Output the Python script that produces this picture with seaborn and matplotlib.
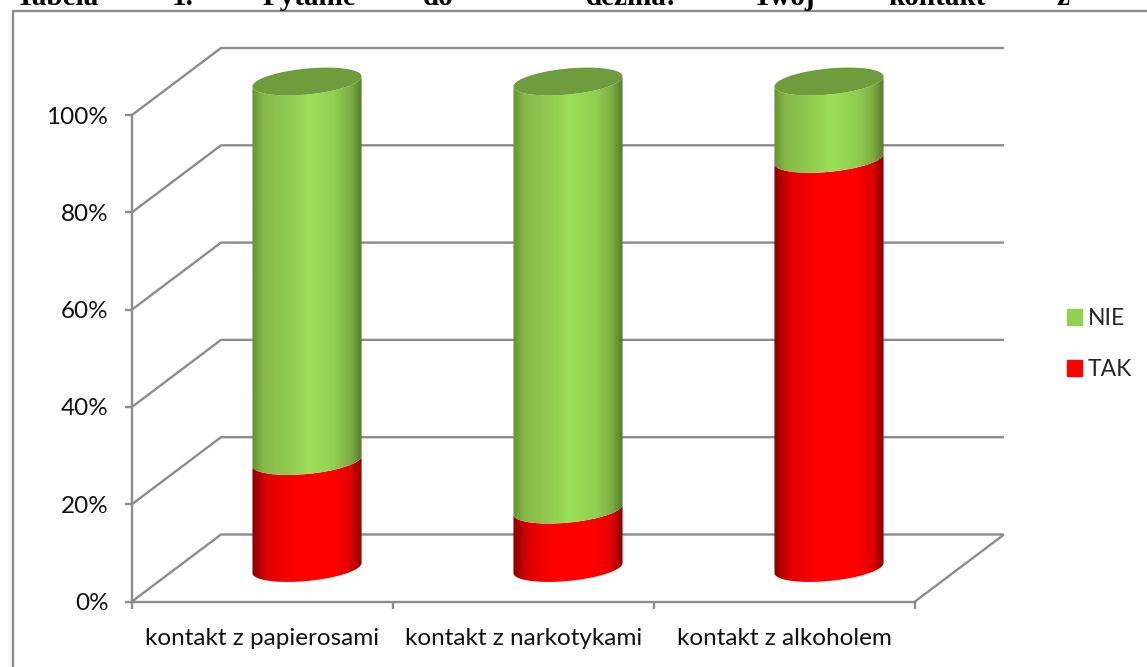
import numpy as np
import seaborn as sns
import matplotlib
matplotlib.use("Agg")
import matplotlib.pyplot as plt
from matplotlib.colors import LinearSegmentedColormap
from matplotlib.lines import Line2D
from matplotlib.patches import Patch
from matplotlib.path import Path

W, H = 1147, 667

categories = ["kontakt z papierosami", "kontakt z narkotykami", "kontakt z alkoholem"]
tak = [22.0, 12.0, 84.1]
nie = [78.0, 88.0, 15.9]
y_ticks = [0, 20, 40, 60, 80, 100]
y_labels = ["0%", "20%", "40%", "60%", "80%", "100%"]
title_words = ["Tabela", "1.", "Pytanie", "do", "dezina!", "Twój", "kontakt", "z"]
title_x = [16, 172, 263, 423, 586, 753, 888, 1056]

GRID = "#8c8c8c"
LW = 1.7
GREEN_STOPS = [(0, "#64902f"), (0.1, "#86b84a"), (0.35, "#92cc50"), (0.52, "#9ce05a"),
               (0.75, "#90cf50"), (0.9, "#7fae45"), (1, "#557a2a")]
RED_STOPS = [(0, "#8b0000"), (0.14, "#e00000"), (0.4, "#ff0000"), (0.75, "#ff0000"),
             (0.9, "#e00000"), (1, "#8b0000")]

sns.set_theme(style="white")
plt.rcParams["font.family"] = ["Lato", "DejaVu Sans"]

fig = plt.figure(figsize=(W / 100, H / 100), dpi=100)
ax = fig.add_axes([132 / W, (H - 601.5) / H, 783 / W, 486.5 / H])
ax.patch.set_visible(False)

sns.barplot(x=categories, y=tak, color="#ff0000", saturation=1, width=0.418, ax=ax)
sns.barplot(x=categories, y=nie, bottom=tak, color="#92d050", saturation=1, width=0.418, ax=ax)

# depth of the fake 3d box, in data units
depth_x = 89 / 261
depth_y = 67 / 4.865
x0, x1 = -0.5, 2.5
ell_b = 13 / 4.865
ell_k = 5 / 4.865


def low_arc(cx, a, y, reverse=False):
    t = np.linspace(np.pi, 2 * np.pi, 60)
    if reverse:
        t = t[::-1]
    return np.column_stack([cx + a * np.cos(t), y + ell_b * np.sin(t) + ell_k * np.cos(t)])


def cylinder(bar, stops):
    # shifted half way into the box
    a = bar.get_width() / 2
    cx = bar.get_x() + a + depth_x / 2
    y0 = bar.get_y() + depth_y / 2
    y1 = y0 + bar.get_height()
    pts = np.vstack([low_arc(cx, a, y0), low_arc(cx, a, y1, reverse=True)])
    path = Path(np.vstack([pts, pts[0]]), closed=True)
    cmap = LinearSegmentedColormap.from_list("cyl", stops)
    im = ax.imshow(np.linspace(0, 1, 256).reshape(1, -1), cmap=cmap, aspect="auto", zorder=3,
                   extent=(cx - a, cx + a, y0 - 10, y1 + 10), interpolation="bilinear")
    im.set_clip_box(fig.bbox)
    im.set_clip_path(path, ax.transData)
    bar.set_visible(False)
    return cx, a, y1


bars = list(ax.patches)
n = len(categories)
for bar in bars[:n]:
    cylinder(bar, RED_STOPS)
for bar in bars[n:]:
    cx, a, top = cylinder(bar, GREEN_STOPS)
    t = np.linspace(0, 2 * np.pi, 120)
    ax.fill(cx + a * np.cos(t), top + ell_b * np.sin(t) + ell_k * np.cos(t),
            color="#6f9c3c", lw=0, zorder=4, clip_on=False)

# back wall and left wall
for v in y_ticks:
    ax.plot([x0, x0 + depth_x, x1 + depth_x], [v, v + depth_y, v + depth_y], color=GRID, lw=LW,
            clip_on=False, zorder=1, solid_joinstyle="miter", solid_capstyle="butt")
ax.plot([x1, x1 + depth_x], [0, depth_y], color=GRID, lw=LW, clip_on=False, zorder=1,
        solid_capstyle="butt")

ax.set_xlim(x0, x1)
ax.set_ylim(0, 100)
sns.despine(ax=ax)
for side in ["left", "bottom"]:
    ax.spines[side].set_color(GRID)
    ax.spines[side].set_linewidth(LW)

ax.set_yticks(y_ticks, y_labels)
ax.tick_params(axis="y", left=True, length=5, width=LW, color=GRID, pad=12,
               labelsize=17.5, labelcolor="#111111")
ax.set_xticks([-0.5, 0.5, 1.5, 2.5], ["", "", "", ""])
ax.set_xticks(range(n), categories, minor=True)
ax.tick_params(axis="x", which="major", bottom=True, length=5, width=LW, color=GRID)
ax.tick_params(axis="x", which="minor", bottom=False, length=0, pad=19,
               labelsize=17.5, labelcolor="#111111")

handles = [Patch(color="#92d050"), Patch(color="#ff0000")]
fig.legend(handles, ["NIE", "TAK"], loc="center left", bbox_to_anchor=(1067 / W, (H - 344) / H),
           frameon=False, fontsize=16.5, handlelength=0.66, handleheight=0.66,
           labelspacing=1.3, handletextpad=0.25, borderpad=0, borderaxespad=0)

# outer frame, open at the right and bottom
fig.add_artist(Line2D([13 / W, 13 / W, 1], [0, (H - 11) / H, (H - 11) / H],
                      color=GRID, lw=LW, transform=fig.transFigure))

# cut off caption line from the page above the chart
for word, x in zip(title_words, title_x):
    fig.text(x / W, (H - 5) / H, word, family="Liberation Serif", weight="bold",
             fontsize=21, color="black", va="baseline", ha="left")

fig.savefig("out.png", dpi=100)
